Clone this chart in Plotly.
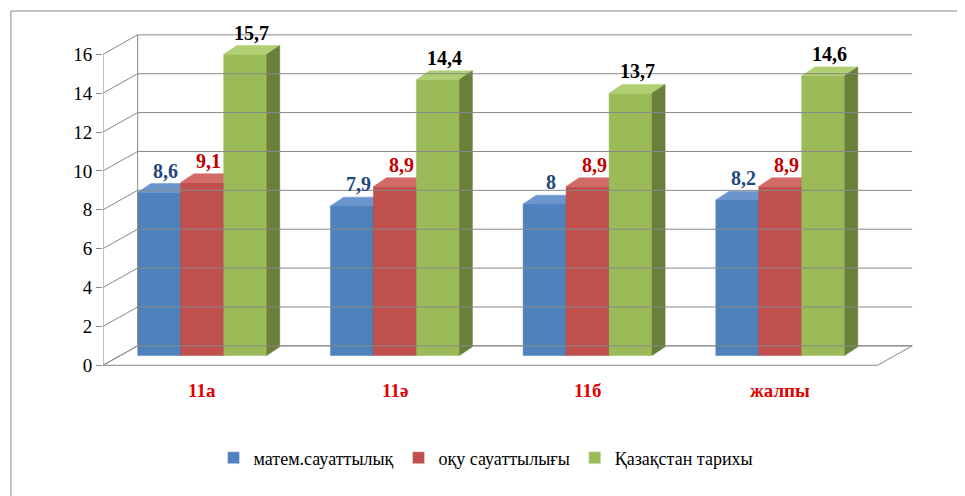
import plotly.graph_objects as go

categories = ["11а", "11ә", "11б", "жалпы"]
series_names = ["матем.сауаттылық", "оқу сауаттылығы", "Қазақстан тарихы"]
math_vals = [8.6, 7.9, 8.0, 8.2]
read_vals = [9.1, 8.9, 8.9, 8.9]
hist_vals = [15.7, 14.4, 13.7, 14.6]
y_ticks = [0, 2, 4, 6, 8, 10, 12, 14, 16]

values = [math_vals, read_vals, hist_vals]
front = ["#4F81BD", "#C0504D", "#9BBB59"]
topc = ["#6A95CC", "#D26A67", "#B0CF72"]
side = ["#385D8A", "#8C3836", "#6B7F3A"]
lblc = ["#1F497D", "#C00000", "#000000"]
FONT = "Times New Roman, Liberation Serif, serif"

W = 0.223; DX = 0.068; DY = 0.45; BASE = 0.5; LIFT = 0.3; SHIFT = -0.035
XL, XR, WX, WY = -0.55, 3.47, 0.18, 1.0

fig = go.Figure()
shapes = []
grey = dict(color="#888888", width=1)
fig.add_trace(go.Scatter(x=[XL, XR, XR + WX, XL + WX, XL], y=[0, 0, WY, WY, 0], fill="toself",
                         fillcolor="rgba(0,0,0,0)", line=grey, mode="lines", showlegend=False, hoverinfo="skip"))
for t in y_ticks:
    shapes.append(dict(type="line", x0=XL, y0=t, x1=XL + WX, y1=t + WY, line=grey))
    shapes.append(dict(type="line", x0=XL + WX, y0=t + WY, x1=XR + WX, y1=t + WY, line=grey))
shapes.append(dict(type="line", x0=XL + WX, y0=WY, x1=XL + WX, y1=16 + WY, line=grey))
shapes.append(dict(type="line", x0=XL, y0=0, x1=XL, y1=16, line=grey))

annotations = []
for s in range(3):
    for i, v in enumerate(values[s]):
        x0 = i + SHIFT + (s - 1) * W - W / 2
        x1 = x0 + W
        top = v + LIFT
        polys = [
            ([x0, x1, x1, x0, x0], [BASE, BASE, top, top, BASE], front[s]),
            ([x0, x1, x1 + DX, x0 + DX, x0], [top, top, top + DY, top + DY, top], topc[s]),
            ([x1, x1 + DX, x1 + DX, x1, x1], [BASE, BASE + DY, top + DY, top, BASE], side[s]),
        ]
        for px, py, c in polys:
            fig.add_trace(go.Scatter(x=px, y=py, fill="toself", fillcolor=c, mode="lines",
                                     line=dict(color=c, width=0.5), showlegend=False, hoverinfo="skip"))
        annotations.append(dict(x=(x0 + x1 + DX) / 2, y=top + DY, yanchor="bottom", showarrow=False,
                                text="<b>" + f"{v:g}".replace(".", ",") + "</b>",
                                font=dict(family=FONT, size=20, color=lblc[s])))

for i, c in enumerate(categories):
    annotations.append(dict(x=i + SHIFT, xref="x", y=-0.081, yref="paper", showarrow=False,
                            text="<b>" + c + "</b>", font=dict(family=FONT, size=19, color="#E00000")))

for s in range(3):
    fig.add_trace(go.Bar(x=[None], y=[None], name=series_names[s], marker_color=front[s]))

shapes.append(dict(type="rect", xref="paper", yref="paper", x0=-0.113, x1=1.061, y0=-0.364, y1=1.052,
                   line=dict(color="#888888", width=1)))

fig.update_layout(
    width=965, height=496, margin=dict(l=95, r=55, t=21, b=129),
    plot_bgcolor="white", paper_bgcolor="white",
    xaxis=dict(range=[-0.55, 3.68], visible=False, fixedrange=True),
    yaxis=dict(range=[-0.5, 17.3], tickvals=y_ticks, showgrid=False, zeroline=False,
               tickfont=dict(family=FONT, size=19, color="black"), ticks="outside",
               ticklen=6, tickcolor="#888888"),
    shapes=shapes, annotations=annotations,
    legend=dict(orientation="h", x=0.47, xanchor="center", y=-0.24, yanchor="middle",
                font=dict(family=FONT, size=18, color="black"), itemwidth=30),
    showlegend=True,
)
fig.write_html("out.html")
